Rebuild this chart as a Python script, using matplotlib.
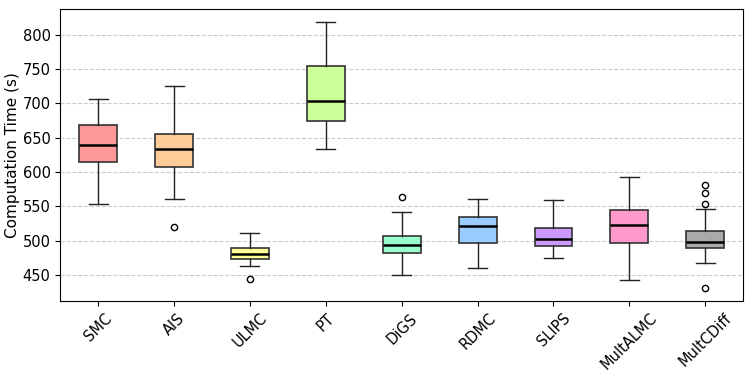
import matplotlib
matplotlib.use("Agg")
import matplotlib.pyplot as plt
from matplotlib.ticker import MultipleLocator

methods = ["SMC", "AIS", "ULMC", "PT", "DiGS", "RDMC", "SLIPS", "MultALMC", "MultCDiff"]
whislo = [553, 561, 463, 633, 451, 461, 475, 443, 468]
q1 = [615, 607, 473, 674, 483, 497.5, 492, 496.5, 490]
med = [640, 633, 481.5, 704, 494, 522, 503, 523, 499]
q3 = [669, 655.5, 489, 754.5, 507.7, 535, 519, 545, 514]
whishi = [707, 726, 511.5, 818, 542, 560.5, 560, 593.5, 547]
fliers = [[], [520], [445], [], [564.4], [], [], [], [581, 570, 554, 432]]
colors = ["#FF9999", "#FFCC99", "#FFFF99", "#CCFF99", "#99FFCC",
          "#99CCFF", "#CC99FF", "#FF99CC", "#AAAAAA"]

stats = []
for i, name in enumerate(methods):
    stats.append({"label": name, "whislo": whislo[i], "q1": q1[i], "med": med[i],
                  "q3": q3[i], "whishi": whishi[i], "fliers": fliers[i]})

fig, ax = plt.subplots(figsize=(7.53, 3.77), dpi=100)
bp = ax.bxp(stats, widths=0.5, patch_artist=True,
            medianprops=dict(color="black", linewidth=1.8),
            boxprops=dict(edgecolor="#333333", linewidth=1.2),
            whiskerprops=dict(color="#222222"),
            capprops=dict(color="#222222"),
            flierprops=dict(marker="o", markerfacecolor="none",
                            markeredgecolor="black", markersize=4.5))
for patch, c in zip(bp["boxes"], colors):
    patch.set_facecolor(c)

ax.set_ylabel("Computation Time (s)", fontsize=11, labelpad=2)
ax.tick_params(axis="both", labelsize=10.5)
ax.yaxis.set_major_locator(MultipleLocator(50))
plt.setp(ax.get_xticklabels(), rotation=45)
ax.yaxis.grid(True, linestyle="--", color="#cccccc", linewidth=0.8)
ax.set_axisbelow(True)

fig.subplots_adjust(left=0.08, right=0.987, top=0.976, bottom=0.202)
plt.savefig("out.png")
